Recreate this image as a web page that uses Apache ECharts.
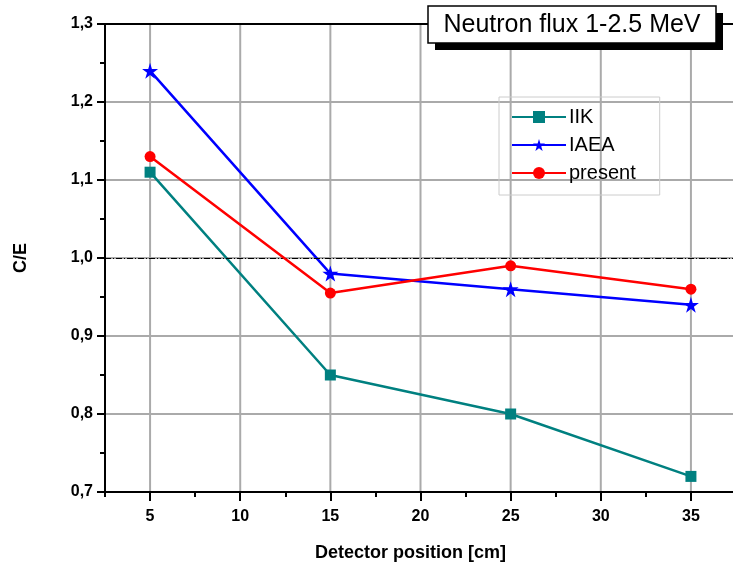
<!DOCTYPE html>
<html>
<head>
<meta charset="utf-8">
<script src="https://cdn.jsdelivr.net/npm/echarts@6/dist/echarts.min.js"></script>
<style>
  html, body { margin: 0; padding: 0; background: #fff; }
  #chart { width: 733px; height: 567px; }
</style>
</head>
<body>
<div id="chart"></div>
<script>
// detector positions (cm)
const positions = [5, 15, 25, 35];
// C/E values per code
const iik = [1.11, 0.85, 0.80, 0.72];
const iaea = [1.24, 0.98, 0.96, 0.94];
const present = [1.13, 0.955, 0.99, 0.96];
const refLine = 1.0;
// tick values on the x axis
const xMajor = [5, 10, 15, 20, 25, 30, 35];
const xMinor = [2.5, 7.5, 12.5, 17.5, 22.5, 27.5, 32.5, 37.5];

const starPath = "path://M50,0 L61,35 L98,35 L68,57 L79,91 L50,70 L21,91 L32,57 L2,35 L39,35 Z";
const font = "Arial, 'Liberation Sans', sans-serif";

function pairs(vals) {
  return positions.map((x, i) => [x, vals[i]]);
}

const myChart = echarts.init(document.getElementById("chart"));

const labelStyle = { fontFamily: font, fontSize: 16, fontWeight: "bold", color: "#000" };
const nameStyle = { fontFamily: font, fontSize: 18, fontWeight: "bold", color: "#000" };

const option = {
  animation: false,
  backgroundColor: "#fff",
  grid: { left: 105, right: -3, top: 24, bottom: 75, outerBoundsMode: "none", containLabel: false },
  legend: {
    orient: "vertical",
    left: 499,
    top: 97,
    padding: [10, 24, 12, 12],
    borderColor: "#cccccc",
    borderWidth: 1,
    itemWidth: 54,
    itemHeight: 15,
    itemGap: 8,
    textStyle: { fontFamily: font, fontSize: 20, lineHeight: 20, color: "#000", padding: [0, 0, 0, -2] },
    data: ["IIK", "IAEA", "present"]
  },
  xAxis: [
    {
      type: "value",
      min: 2.5,
      max: 37.5,
      name: "Detector position [cm]",
      nameLocation: "middle",
      nameGap: 52,
      nameTextStyle: Object.assign({ padding: [0, 20, 0, 0] }, nameStyle),
      axisLine: { lineStyle: { color: "#000", width: 2 } },
      axisTick: { show: true, length: 9, lineStyle: { width: 2 }, customValues: xMajor },
      axisLabel: Object.assign({ margin: 17, customValues: xMajor }, labelStyle),
      splitLine: { show: false }
    },
    {
      type: "value",
      position: "bottom",
      min: 2.5,
      max: 37.5,
      axisLine: { show: false },
      axisTick: { show: true, length: 5, lineStyle: { width: 2, color: "#000" }, customValues: xMinor },
      axisLabel: { show: false },
      splitLine: { show: false }
    }
  ],
  yAxis: {
    type: "value",
    min: 0.7,
    max: 1.3,
    interval: 0.1,
    name: "C/E",
    nameLocation: "middle",
    nameGap: 75,
    nameRotate: 90,
    nameTextStyle: nameStyle,
    axisLine: { lineStyle: { color: "#000", width: 2 } },
    axisTick: { show: true, length: 8, lineStyle: { width: 2 } },
    minorTick: { show: true, splitNumber: 2, length: 5, lineStyle: { width: 2, color: "#000" } },
    axisLabel: Object.assign({
      margin: 12,
      formatter: v => v.toFixed(1).replace(".", ",")
    }, labelStyle),
    splitLine: { show: false }
  },
  series: [
    {
      name: "IIK",
      type: "line",
      data: pairs(iik),
      color: "#008080",
      symbol: "rect",
      symbolSize: 11,
      lineStyle: { width: 2.5 },
      z: 3
    },
    {
      name: "IAEA",
      type: "line",
      data: pairs(iaea),
      color: "#0000ff",
      symbol: starPath,
      symbolSize: 16,
      lineStyle: { width: 2.5 },
      z: 4
    },
    {
      name: "present",
      type: "line",
      data: pairs(present),
      color: "#ff0000",
      symbol: "circle",
      symbolSize: 11,
      lineStyle: { width: 2.5 },
      z: 5,
      markLine: {
        silent: true,
        symbol: "none",
        label: { show: false },
        lineStyle: { color: "#000", width: 1, type: [6, 2, 1, 2] },
        data: [{ yAxis: refLine }]
      }
    }
  ]
};

myChart.setOption(option);

// gray grid lines at major ticks, built from the axis scales after layout
function drawGrid() {
  const els = [];
  const top = myChart.convertToPixel({ yAxisIndex: 0 }, 1.3);
  const bottom = myChart.convertToPixel({ yAxisIndex: 0 }, 0.7);
  const left = myChart.convertToPixel({ xAxisIndex: 0 }, 2.5);
  const right = myChart.convertToPixel({ xAxisIndex: 0 }, 37.5);
  xMajor.forEach(x => {
    const px = myChart.convertToPixel({ xAxisIndex: 0 }, x);
    els.push({ type: "line", shape: { x1: px, y1: top, x2: px, y2: bottom },
      style: { stroke: "#aaaaaa", lineWidth: 2 }, z: -1, silent: true });
  });
  [0.8, 0.9, 1.0, 1.1, 1.2].forEach(y => {
    const py = myChart.convertToPixel({ yAxisIndex: 0 }, y);
    els.push({ type: "line", shape: { x1: left, y1: py, x2: right, y2: py },
      style: { stroke: "#aaaaaa", lineWidth: 2 }, z: -1, silent: true });
  });
  // top frame line
  els.push({ type: "line", shape: { x1: left - 8, y1: top, x2: right, y2: top },
    style: { stroke: "#000", lineWidth: 2 }, z: 1, silent: true });
  // title box with shadow
  els.push({ type: "rect", shape: { x: 435, y: 13, width: 288, height: 37 },
    style: { fill: "#000" }, z: 10, silent: true });
  els.push({ type: "rect", shape: { x: 428, y: 6, width: 288, height: 37 },
    style: { fill: "#fff", stroke: "#000", lineWidth: 1.5 }, z: 11, silent: true });
  els.push({ type: "text", x: 572, y: 25, z: 12, silent: true,
    style: { text: "Neutron flux 1-2.5 MeV", font: "25px " + font, fill: "#000",
      align: "center", verticalAlign: "middle" } });
  myChart.setOption({ graphic: { elements: els } });
}
drawGrid();
</script>
</body>
</html>
